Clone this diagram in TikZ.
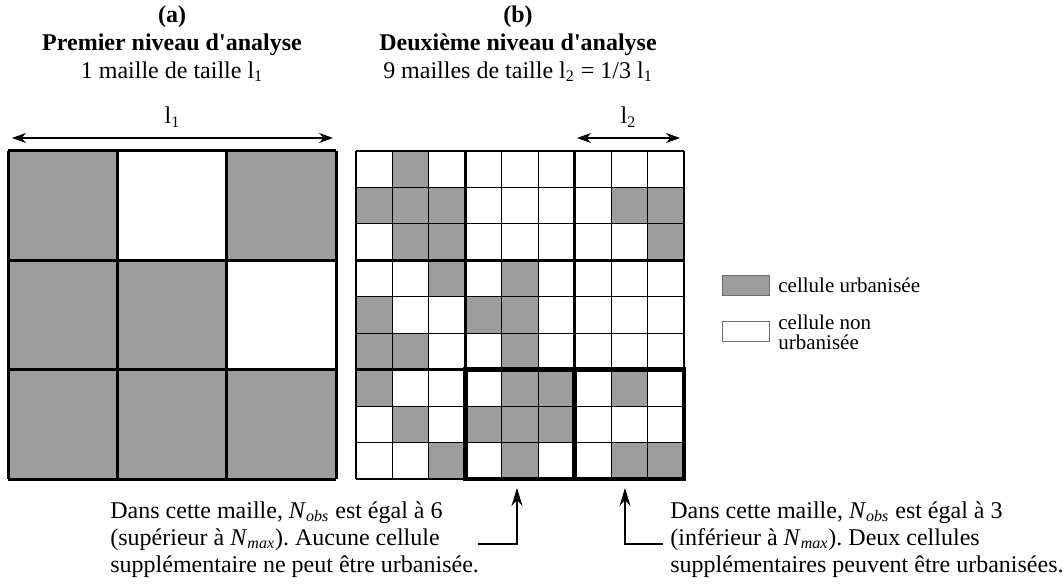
\documentclass[tikz,border=0pt]{standalone}
\usepackage{fontspec}
\setmainfont{Liberation Serif}[Ligatures=TeXOff]
\usetikzlibrary{arrows.meta}
\definecolor{grisurb}{RGB}{157,157,157}
\definecolor{bordlegende}{RGB}{110,110,110}
\frenchspacing

\begin{document}
\begin{tikzpicture}[x=0.5pt,y=-0.5pt,
    titre/.style={align=center,font=\fontsize{12}{14}\selectfont,inner sep=0pt},
    texte/.style={align=left,font=\fontsize{12}{13.5}\selectfont,inner sep=0pt,anchor=north west},
    legende/.style={align=left,font=\fontsize{10.5}{10}\selectfont,inner sep=0pt,anchor=west},
    cote/.style={{Stealth[length=7pt,width=5pt]}-{Stealth[length=7pt,width=5pt]},line width=0.6pt},
    fleche/.style={-{Stealth[length=9pt,width=5.5pt]},line width=0.8pt}]
\useasboundingbox (0,0) rectangle (1064,588);

% titres
\node[titre,anchor=north] (titreA) at (172,5) {\textbf{(a)}\\\textbf{Premier niveau d'analyse}\\1 maille de taille l\textsubscript{1}};
\node[titre,anchor=north] (titreB) at (518,5) {\textbf{(b)}\\\textbf{Deuxième niveau d'analyse}\\9 mailles de taille l\textsubscript{2} = 1/3 l\textsubscript{1}};

% cotes l1 et l2
\coordinate (coteAg) at (12,138);
\coordinate (coteAd) at (333,138);
\coordinate (coteBg) at (577,138);
\coordinate (coteBd) at (680,138);
\draw[cote] (coteAg) -- node[titre,above=5pt] (lA) {l\textsubscript{1}} (coteAd);
\draw[cote] (coteBg) -- node[titre,above=5pt] (lB) {l\textsubscript{2}} (coteBd);

% (a) une maille de taille l1
\begin{scope}[shift={(8,151)},x=54.67pt,y=-54.67pt]
\foreach \c/\r in {0/0,2/0,0/1,1/1,0/2,1/2,2/2}
  \fill[grisurb] (\c,\r) rectangle ++(1,1);
\foreach \i in {0,...,3} {
  \draw[line width=1.5pt] (\i,0) -- (\i,3);
  \draw[line width=1.5pt] (0,\i) -- (3,\i);
}
\end{scope}

% (b) neuf mailles de taille l2
\begin{scope}[shift={(356,151)},x=18.22pt,y=-18.22pt]
\foreach \c/\r in {1/0, 0/1,1/1,2/1,7/1,8/1, 1/2,2/2,8/2, 2/3,4/3, 0/4,3/4,4/4,
                   0/5,1/5,4/5, 0/6,4/6,5/6,7/6, 1/7,3/7,4/7,5/7, 2/8,4/8,7/8,8/8}
  \fill[grisurb] (\c,\r) rectangle ++(1,1);
\foreach \i in {0,...,9} {
  \draw[line width=0.5pt] (\i,0) -- (\i,9);
  \draw[line width=0.5pt] (0,\i) -- (9,\i);
}
\foreach \i in {0,3,6,9} {
  \draw[line width=1.2pt] (\i,0) -- (\i,9);
  \draw[line width=1.2pt] (0,\i) -- (9,\i);
}
\draw[line width=2.4pt] (3,6) rectangle (6,9);
\draw[line width=2.4pt] (6,6) rectangle (9,9);
\end{scope}

% legende
\draw[fill=grisurb,draw=bordlegende,line width=0.5pt] (722,275) rectangle (769,295);
\draw[fill=white,draw=bordlegende,line width=0.5pt] (722,321) rectangle (769,341);
\node[legende] (legA) at (778,285) {cellule urbanisée};
\node[legende] (legB) at (778,332) {cellule non\\urbanisée};

% commentaires du bas
\node[texte] (texteA) at (110,501) {Dans cette maille, \textit{N}\textsubscript{\textit{obs}} est égal à 6\\(supérieur à \textit{N}\textsubscript{\textit{max}}). Aucune cellule\\supplémentaire ne peut être urbanisée.};
\node[texte] (texteB) at (670,501) {Dans cette maille, \textit{N}\textsubscript{\textit{obs}} est égal à 3\\(inférieur à \textit{N}\textsubscript{\textit{max}}). Deux cellules\\supplémentaires peuvent être urbanisées.};
\coordinate (pointeA) at (517,488);
\coordinate (departA) at (478,544);
\coordinate (pointeB) at (625,488);
\coordinate (departB) at (663,544);
\draw[fleche] (departA) -| (pointeA);
\draw[fleche] (departB) -| (pointeB);
\end{tikzpicture}
\end{document}
